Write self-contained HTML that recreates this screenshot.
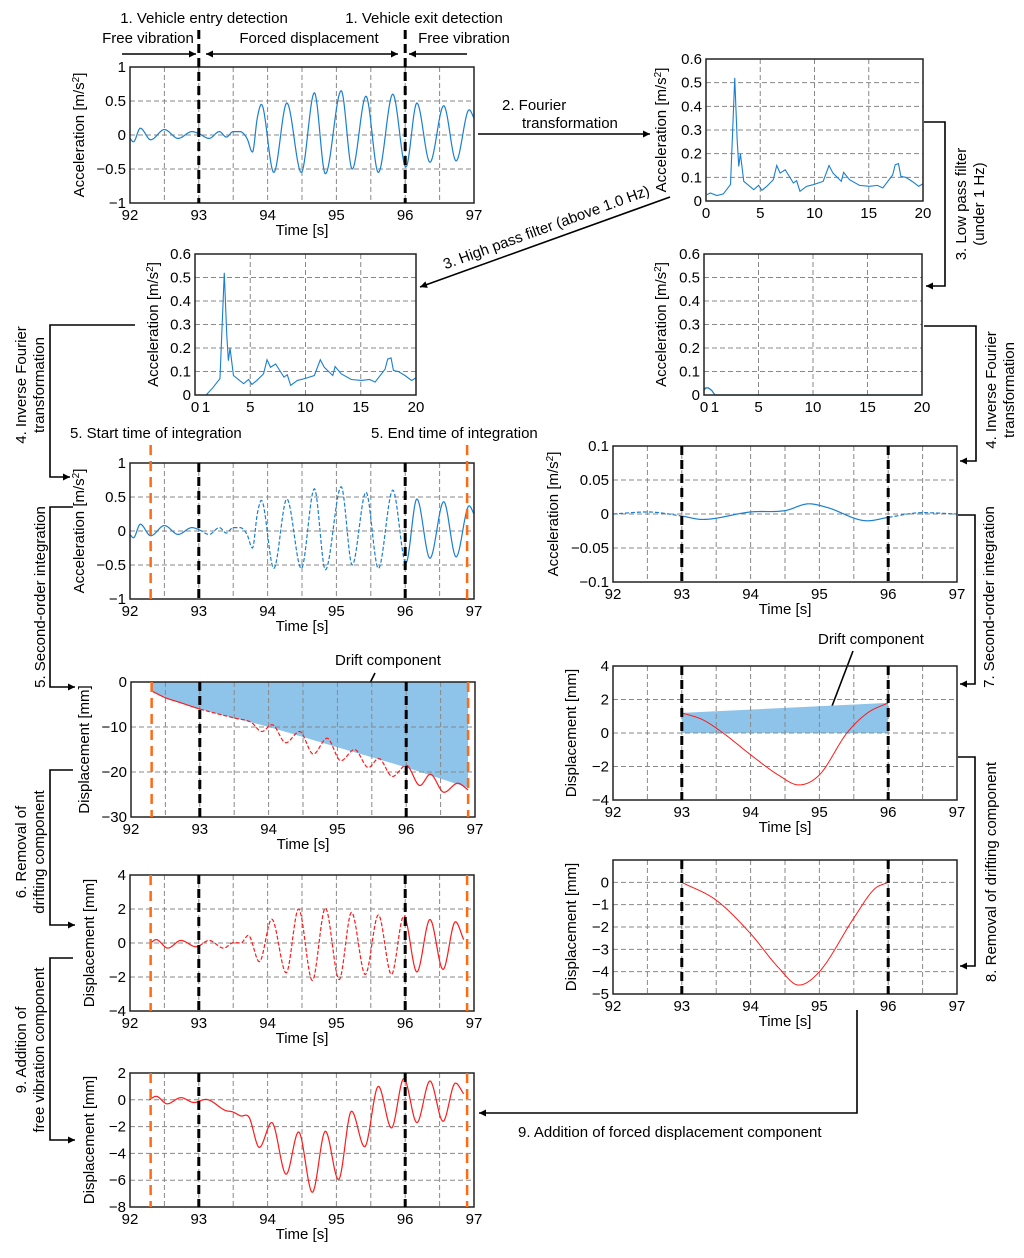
<!DOCTYPE html>
<html><head><meta charset="utf-8">
<style>
html,body{margin:0;padding:0;background:#fff;}
svg{display:block;font-family:"Liberation Sans",Arial,sans-serif;}
text{font-size:15px;fill:#000;}
</style></head>
<body>
<svg id="fig" width="1024" height="1258" viewBox="0 0 1024 1258" xmlns="http://www.w3.org/2000/svg">
<defs>
<marker id="ah" viewBox="0 0 10 10" refX="10" refY="5" markerWidth="9" markerHeight="7" orient="auto-start-reverse" markerUnits="userSpaceOnUse"><path d="M0,0 L10,5 L0,10 z" fill="#000"/></marker>
</defs>
<g id="annot" stroke="#000" fill="none" stroke-width="1.6">
  <line x1="122" y1="54" x2="196" y2="54" marker-end="url(#ah)"/>
  <line x1="206" y1="54" x2="398" y2="54" marker-start="url(#ah)" marker-end="url(#ah)"/>
  <line x1="467" y1="54" x2="409" y2="54" marker-end="url(#ah)"/>
  <line x1="478" y1="134" x2="650" y2="134" marker-end="url(#ah)"/>
  <line x1="670" y1="197" x2="420" y2="287" marker-end="url(#ah)"/>
  <polyline points="924,122 945,122 945,286 926,286" marker-end="url(#ah)"/>
  <polyline points="135,325 50,325 50,477 70,477" marker-end="url(#ah)"/>
  <polyline points="924,326 976,326 976,461 960,461" marker-end="url(#ah)"/>
  <polyline points="73,507 50,507 50,687 75,687" marker-end="url(#ah)"/>
  <polyline points="958,515 975,515 975,684 960,684" marker-end="url(#ah)"/>
  <polyline points="73,770 50,770 50,925 75,925" marker-end="url(#ah)"/>
  <polyline points="958,757 975,757 975,966 960,966" marker-end="url(#ah)"/>
  <polyline points="73,958 50,958 50,1140 75,1140" marker-end="url(#ah)"/>
  <polyline points="857,1010 857,1113 479,1113" marker-end="url(#ah)"/>
  <line x1="375" y1="673" x2="360" y2="703"/>
  <line x1="853" y1="651" x2="829" y2="714"/>
</g>
<g id="labels">
  <text x="204" y="23" text-anchor="middle">1. Vehicle entry detection</text>
  <text x="424" y="23" text-anchor="middle">1. Vehicle exit detection</text>
  <text x="148" y="43" text-anchor="middle">Free vibration</text>
  <text x="309" y="43" text-anchor="middle">Forced displacement</text>
  <text x="464" y="43" text-anchor="middle">Free vibration</text>
  <text x="502" y="110">2. Fourier</text>
  <text x="522" y="128">transformation</text>
  <text transform="translate(548,232) rotate(-20)" text-anchor="middle">3. High pass filter (above 1.0 Hz)</text>
  <text transform="translate(966,204) rotate(-90)" text-anchor="middle">3. Low pass filter</text>
  <text transform="translate(984,204) rotate(-90)" text-anchor="middle">(under 1 Hz)</text>
  <text transform="translate(26,385) rotate(-90)" text-anchor="middle">4. Inverse Fourier</text>
  <text transform="translate(44,385) rotate(-90)" text-anchor="middle">transformation</text>
  <text transform="translate(996,390) rotate(-90)" text-anchor="middle">4. Inverse Fourier</text>
  <text transform="translate(1014,390) rotate(-90)" text-anchor="middle">transformation</text>
  <text x="70" y="438">5. Start time of integration</text>
  <text x="371" y="438">5. End time of integration</text>
  <text transform="translate(45,597) rotate(-90)" text-anchor="middle">5. Second-order integration</text>
  <text transform="translate(994,597) rotate(-90)" text-anchor="middle">7. Second-order  integration</text>
  <text transform="translate(26,852) rotate(-90)" text-anchor="middle">6. Removal of</text>
  <text transform="translate(44,852) rotate(-90)" text-anchor="middle">drifting component</text>
  <text transform="translate(996,872) rotate(-90)" text-anchor="middle">8. Removal of drifting component</text>
  <text transform="translate(26,1050) rotate(-90)" text-anchor="middle">9. Addition of</text>
  <text transform="translate(44,1050) rotate(-90)" text-anchor="middle">free vibration component</text>
  <text x="518" y="1137">9. Addition of forced displacement component</text>
  <text x="335" y="665">Drift component</text>
  <text x="818" y="644">Drift component</text>
</g>
</svg>
<script>
// ---------- data ----------
const accT=[92,92.05,92.15,92.3,92.5,92.7,92.9,93.0,93.15,93.3,93.4,93.5,93.6,93.7,93.78,93.85,93.91,94.09,94.28,94.49,94.68,94.84,95.07,95.23,95.43,95.61,95.82,96.01,96.17,96.36,96.56,96.74,96.93,97];
const accV=[-0.05,-0.1,0.1,-0.07,0.08,-0.05,0.05,0.02,-0.05,0.05,-0.03,0.05,0.05,-0.05,-0.25,0.25,0.45,-0.55,0.47,-0.55,0.62,-0.57,0.65,-0.5,0.57,-0.55,0.6,-0.47,0.47,-0.4,0.43,-0.38,0.37,0.25];
const specF=[0.1,0.4,1.0,1.6,2.26,2.65,2.87,3.02,3.17,3.48,4.4,4.85,5.15,5.6,6.2,6.52,6.83,7.3,8.05,8.35,8.66,9.27,9.88,10.8,11.34,11.7,12.47,12.68,13.23,14.15,15.06,15.8,16.3,17.2,17.44,17.74,17.96,18.4,19.0,19.6,20];
const specA=[0.027,0.034,0.023,0.03,0.07,0.52,0.26,0.146,0.2,0.083,0.048,0.066,0.045,0.062,0.09,0.15,0.118,0.132,0.076,0.086,0.041,0.062,0.069,0.083,0.15,0.118,0.083,0.121,0.09,0.066,0.062,0.066,0.055,0.11,0.153,0.158,0.104,0.1,0.083,0.062,0.073];
const hpF=[1.0,1.6,2.26,2.65,2.87,3.02,3.17,3.48,4.4,4.85,5.15,5.6,6.2,6.52,6.83,7.3,8.05,8.35,8.66,9.27,9.88,10.8,11.34,11.7,12.47,12.68,13.23,14.15,15.06,15.8,16.3,17.2,17.44,17.74,17.96,18.4,19.0,19.6,20];
const hpA=[0.0,0.03,0.07,0.52,0.26,0.146,0.2,0.083,0.048,0.066,0.045,0.062,0.09,0.15,0.118,0.132,0.076,0.086,0.041,0.062,0.069,0.083,0.15,0.118,0.083,0.121,0.09,0.066,0.062,0.066,0.055,0.11,0.153,0.158,0.104,0.1,0.083,0.062,0.073];
const lpF=[0,0.15,0.4,0.7,1.0,1.1,20];
const lpA=[0.02,0.03,0.03,0.02,0.0,0,0];
const lowAccT=[92,92.5,93,93.3,94,94.5,94.85,95.1,95.7,96,96.5,97];
const lowAccV=[0,0.003,-0.003,-0.008,0.003,0.005,0.015,0.01,-0.01,-0.005,0.002,0];
const dispRawT=[92.3,92.5,92.7,93,93.5,93.75,93.9,94.05,94.25,94.45,94.65,94.85,95.05,95.25,95.45,95.6,95.8,96.0,96.2,96.35,96.55,96.75,96.9];
const dispRawV=[-2,-3.5,-4.5,-6,-8,-9,-11,-9.5,-13.5,-11,-16,-12.5,-17.5,-15,-19,-17,-21,-18.5,-23,-20.5,-24.5,-22.5,-24];
const driftT=[92.3,92.6,93,94,95,96,96.9];
const driftV=[-2,-4,-6,-10,-14.5,-19,-23.5];
const lowDispT=[93,93.3,93.6,94,94.4,94.7,95,95.4,95.7,96];
const lowDispV=[1.2,0.8,0,-1.3,-2.5,-3.1,-2.5,0,1.2,1.8];
const lowDriftT=[93,96];
const lowDriftV=[1.2,1.8];
const corrDispT=[92.3,92.38,92.55,92.74,92.96,93.15,93.36,93.51,93.61,93.72,93.88,94.06,94.27,94.45,94.65,94.84,95.04,95.22,95.42,95.61,95.8,95.98,96.17,96.36,96.55,96.73,96.85];
const corrDispV=[0,0.2,-0.3,0.15,-0.22,0.15,-0.3,0.03,0.0,0.45,-1.1,1.4,-1.75,2.0,-2.2,2.05,-2.15,1.8,-1.85,1.65,-1.85,1.6,-1.7,1.38,-1.55,1.25,0.2];
const forcedT=[93,93.5,94,94.4,94.7,95,95.5,95.8,96];
const forcedV=[0,-0.8,-2.3,-3.8,-4.6,-4.0,-1.6,-0.3,0];
const finalT=[92.28,92.38,92.54,92.74,92.93,93.1,93.39,93.49,93.61,93.73,93.88,94.06,94.27,94.45,94.65,94.84,95.03,95.22,95.41,95.61,95.8,95.98,96.17,96.36,96.55,96.73,96.85];
const finalV=[0.0,0.26,-0.3,0.16,-0.2,0.03,-0.8,-0.9,-1.2,-1.3,-3.55,-1.7,-5.55,-2.4,-6.9,-2.35,-5.95,-0.85,-3.5,1.0,-2.1,1.58,-1.7,1.4,-1.6,1.25,0.45];
const timeTicks=[92,93,94,95,96,97];
const freqTicks=[0,5,10,15,20];
const freqTicksLow=[0,1,5,10,15,20];
const accTicks=[1,0.5,0,-0.5,-1];
const specTicks=[0,0.1,0.2,0.3,0.4,0.5,0.6];
const lowAccTicks=[0.1,0.05,0,-0.05,-0.1];
const rawDispTicks=[0,-10,-20,-30];
const dispTicks4=[4,2,0,-2,-4];
const lowDispTicks=[0,-1,-2,-3,-4,-5];
const finalTicks=[2,0,-2,-4,-6,-8];
const detectTimes=[93,96];
const integTimes=[92.3,96.9];

// ---------- drawing ----------
const NS='http://www.w3.org/2000/svg';
const svg=document.getElementById('fig');
function mk(tag,attrs,parent,name){
  const e=document.createElementNS(NS,tag);
  for(const k in attrs) e.setAttribute(k,attrs[k]);
  
  
  parent.appendChild(e);return e;
}
function fmt(v){return (v<0?'\u2212':'')+String(Math.abs(v));}
function hermite(T,V){
  const n=T.length,d=[],m=[];
  for(let k=0;k<n-1;k++) d.push((V[k+1]-V[k])/(T[k+1]-T[k]));
  for(let k=0;k<n;k++){
    if(k===0) m.push(d[0]); else if(k===n-1) m.push(d[n-2]);
    else m.push(d[k-1]*d[k]<=0?0:(d[k-1]+d[k])/2);
  }
  return function(t){
    let k=0; while(k<n-2&&t>T[k+1]) k++;
    const h=T[k+1]-T[k],s=(t-T[k])/h,s2=s*s,s3=s2*s;
    return (2*s3-3*s2+1)*V[k]+(s3-2*s2+s)*h*m[k]+(-2*s3+3*s2)*V[k+1]+(s3-s2)*h*m[k+1];
  };
}
function panel(c){
  const g=mk('g',{},svg,c.name);
  const sx=t=>c.x0+(t-c.xd[0])/(c.xd[1]-c.xd[0])*(c.x1-c.x0);
  const sy=v=>c.y0+(c.yd[0]-v)/(c.yd[0]-c.yd[1])*(c.y1-c.y0);
  c.sx=sx;c.sy=sy;c.g=g;
  if(c.fill) c.fill(c);
  const grid=mk('g',{stroke:'#888','stroke-width':1,'stroke-dasharray':'5,3'},g,'grid');
  c.xgrid.forEach(t=>mk('line',{x1:sx(t),x2:sx(t),y1:c.y0,y2:c.y1},grid,'x-gridline'));
  c.yticks.forEach(v=>mk('line',{x1:c.x0,x2:c.x1,y1:sy(v),y2:sy(v)},grid,'y-gridline'));
  c.xticks.forEach(t=>{const e=mk('text',{x:sx(t),y:c.y1+17,'text-anchor':'middle'},g,'x-tick-label');e.textContent=fmt(t);});
  c.yticks.forEach(v=>{const e=mk('text',{x:c.x0-4,y:sy(v)+5,'text-anchor':'end'},g,'y-tick-label');e.textContent=fmt(v);});
  if(c.xlabel){const e=mk('text',{x:(c.x0+c.x1)/2,y:c.y1+32,'text-anchor':'middle'},g,'x-axis-title');e.textContent=c.xlabel;}
  const yl=mk('text',{transform:`translate(${c.x0-c.ylOff},${(c.y0+c.y1)/2}) rotate(-90)`,'text-anchor':'middle'},g,'y-axis-title');
  if(c.acc){yl.textContent='Acceleration [m/s';const ts=mk('tspan',{'baseline-shift':'super','font-size':'10'},yl,'superscript');ts.textContent='2';const t2=mk('tspan',{},yl,'bracket');t2.textContent=']';}
  else yl.textContent=c.ylabel;
  return c;
}
function frame(c){mk('rect',{x:c.x0,y:c.y0,width:c.x1-c.x0,height:c.y1-c.y0,fill:'none',stroke:'#222','stroke-width':1.5},c.g,'plot-frame');}
function series(c,T,V,color,w,dashRanges,smooth,name){
  const f=smooth?hermite(T,V):null;
  const pts=[];
  if(smooth){for(let t=T[0];t<=T[T.length-1]+1e-9;t+=0.005) pts.push([t,f(Math.min(t,T[T.length-1]))]);}
  else T.forEach((t,i)=>pts.push([t,V[i]]));
  const isD=t=>dashRanges.some(r=>t>=r[0]&&t<r[1]);
  let seg=[],cur=null;
  const flush=()=>{if(seg.length>1){const a={d:'M'+seg.map(p=>c.sx(p[0]).toFixed(2)+','+c.sy(p[1]).toFixed(2)).join('L'),fill:'none',stroke:color,'stroke-width':w};if(cur)a['stroke-dasharray']='4,2';mk('path',a,c.g,name);}};
  pts.forEach(p=>{const d=isD(p[0]);if(cur===null)cur=d;if(d!==cur){seg.push(p);flush();seg=[p];cur=d;}else seg.push(p);});
  flush();
}
function vline(c,times,color,w,dash,name,yTop){
  times.forEach(t=>mk('line',{x1:c.sx(t),x2:c.sx(t),y1:yTop!==undefined?yTop:c.y0,y2:c.y1,stroke:color,'stroke-width':w,'stroke-dasharray':dash},c.g,name));
}
const halfGrid=[92.5,93,93.5,94,94.5,95,95.5,96,96.5];
const fGrid=[5,10,15];
const BLUE='#1a7fd0',RED='#ff1a1a',ORANGE='#ff6a14',FILL='#8ec4ea';

let p=panel({name:'raw-acceleration-chart',x0:130,x1:474,y0:67,y1:203,xd:[92,97],yd:[1,-1],xticks:timeTicks,xgrid:halfGrid,yticks:accTicks,xlabel:'Time [s]',acc:true,ylOff:46});
series(p,accT,accV,BLUE,1.2,[],true,'raw-acceleration-line');frame(p);
vline(p,detectTimes,'#000',3,'9,5','detection-marker',30);

p=panel({name:'spectrum-chart',x0:706,x1:923,y0:59,y1:201,xd:[0,20],yd:[0.6,0],xticks:freqTicks,xgrid:fGrid,yticks:specTicks,acc:true,ylOff:40});
series(p,specF,specA,BLUE,1.1,[],false,'spectrum-line');frame(p);

p=panel({name:'high-pass-spectrum-chart',x0:195,x1:416,y0:254,y1:395,xd:[0,20],yd:[0.6,0],xticks:freqTicksLow,xgrid:fGrid,yticks:specTicks,acc:true,ylOff:37});
series(p,hpF,hpA,BLUE,1.1,[],false,'high-pass-spectrum-line');frame(p);

p=panel({name:'low-pass-spectrum-chart',x0:704,x1:922,y0:254,y1:395,xd:[0,20],yd:[0.6,0],xticks:freqTicksLow,xgrid:fGrid,yticks:specTicks,acc:true,ylOff:38});
series(p,lpF,lpA,BLUE,1.3,[],false,'low-pass-spectrum-line');frame(p);

p=panel({name:'integration-acceleration-chart',x0:130,x1:474,y0:463,y1:599,xd:[92,97],yd:[1,-1],xticks:timeTicks,xgrid:halfGrid,yticks:accTicks,xlabel:'Time [s]',acc:true,ylOff:46});
series(p,accT,accV,BLUE,1.2,[[93,96]],true,'high-pass-acceleration-line');frame(p);
vline(p,detectTimes,'#000',3,'9,5','detection-marker');
vline(p,integTimes,ORANGE,2.5,'10,6','integration-marker',445);

p=panel({name:'low-pass-acceleration-chart',x0:613,x1:957,y0:446,y1:582,xd:[92,97],yd:[0.1,-0.1],xticks:timeTicks,xgrid:halfGrid,yticks:lowAccTicks,xlabel:'Time [s]',acc:true,ylOff:55});
series(p,lowAccT,lowAccV,BLUE,1.2,[[92,93],[96,97.1]],true,'low-pass-acceleration-line');frame(p);
vline(p,detectTimes,'#000',3,'9,5','detection-marker');

p=panel({name:'raw-displacement-chart',x0:131,x1:475,y0:682,y1:817,xd:[92,97],yd:[0,-30],xticks:timeTicks,xgrid:halfGrid,yticks:rawDispTicks,xlabel:'Time [s]',ylabel:'Displacement [mm]',ylOff:42,
 fill:c=>{const f=hermite(driftT,driftV);let d='M'+c.sx(driftT[0])+','+c.sy(0)+'L'+c.sx(driftT[driftT.length-1])+','+c.sy(0);
  for(let t=driftT[driftT.length-1];t>=driftT[0]-1e-9;t-=0.02) d+='L'+c.sx(t).toFixed(2)+','+c.sy(f(Math.max(t,driftT[0]))).toFixed(2);
  mk('path',{d:d+'Z',fill:FILL,stroke:'none'},c.g,'drift-area');}});
series(p,dispRawT,dispRawV,RED,1.2,[[93,96]],true,'raw-displacement-line');frame(p);
vline(p,detectTimes,'#000',3,'9,5','detection-marker');
vline(p,integTimes,ORANGE,2.5,'10,6','integration-marker');

p=panel({name:'low-pass-displacement-chart',x0:613,x1:957,y0:666,y1:800,xd:[92,97],yd:[4,-4],xticks:timeTicks,xgrid:halfGrid,yticks:dispTicks4,xlabel:'Time [s]',ylabel:'Displacement [mm]',ylOff:37,
 fill:c=>{const d='M'+c.sx(lowDriftT[0])+','+c.sy(0)+'L'+c.sx(lowDriftT[0])+','+c.sy(lowDriftV[0])+'L'+c.sx(lowDriftT[1])+','+c.sy(lowDriftV[1])+'L'+c.sx(lowDriftT[1])+','+c.sy(0)+'Z';
  mk('path',{d:d,fill:FILL,stroke:'none'},c.g,'drift-area');}});
series(p,lowDispT,lowDispV,RED,1,[],true,'low-pass-displacement-line');frame(p);
vline(p,detectTimes,'#000',3,'9,5','detection-marker');

p=panel({name:'corrected-displacement-chart',x0:130,x1:474,y0:875,y1:1011,xd:[92,97],yd:[4,-4],xticks:timeTicks,xgrid:halfGrid,yticks:dispTicks4,xlabel:'Time [s]',ylabel:'Displacement [mm]',ylOff:36});
series(p,corrDispT,corrDispV,RED,1.2,[[93,96]],true,'corrected-displacement-line');frame(p);
vline(p,detectTimes,'#000',3,'9,5','detection-marker');
vline(p,integTimes,ORANGE,2.5,'10,6','integration-marker');

p=panel({name:'forced-displacement-chart',x0:613,x1:957,y0:860,y1:994,xd:[92,97],yd:[1,-5],xticks:timeTicks,xgrid:halfGrid,yticks:lowDispTicks,xlabel:'Time [s]',ylabel:'Displacement [mm]',ylOff:37});
series(p,forcedT,forcedV,RED,1,[],true,'forced-displacement-line');frame(p);
vline(p,detectTimes,'#000',3,'9,5','detection-marker');

p=panel({name:'final-displacement-chart',x0:130,x1:474,y0:1073,y1:1207,xd:[92,97],yd:[2,-8],xticks:timeTicks,xgrid:halfGrid,yticks:finalTicks,xlabel:'Time [s]',ylabel:'Displacement [mm]',ylOff:36});
series(p,finalT,finalV,RED,1.2,[],true,'final-displacement-line');frame(p);
vline(p,detectTimes,'#000',3,'9,5','detection-marker');
vline(p,integTimes,ORANGE,2.5,'10,6','integration-marker');
</script>
</body></html>
